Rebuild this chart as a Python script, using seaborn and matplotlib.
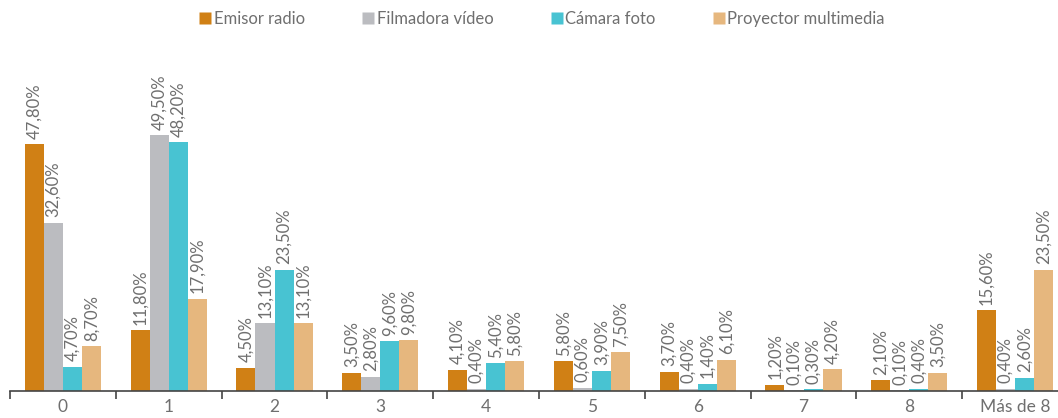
import matplotlib
matplotlib.use("Agg")
import matplotlib.pyplot as plt
import seaborn as sns
import pandas as pd
from matplotlib.lines import Line2D

categorias = ["0", "1", "2", "3", "4", "5", "6", "7", "8", "Más de 8"]
series = ["Emisor radio", "Filmadora vídeo", "Cámara foto", "Proyector multimedia"]
emisor_radio = [47.8, 11.8, 4.5, 3.5, 4.1, 5.8, 3.7, 1.2, 2.1, 15.6]
filmadora_video = [32.6, 49.5, 13.1, 2.8, 0.4, 0.6, 0.4, 0.1, 0.1, 0.4]
camara_foto = [4.7, 48.2, 23.5, 9.6, 5.4, 3.9, 1.4, 0.3, 0.4, 2.6]
proyector = [8.7, 17.9, 13.1, 9.8, 5.8, 7.5, 6.1, 4.2, 3.5, 23.5]
colores = ["#D08015", "#BBBCC0", "#48C3D2", "#E6B77E"]

valores = [emisor_radio, filmadora_video, camara_foto, proyector]
df = pd.DataFrame({
    "cat": categorias * 4,
    "serie": [s for s in series for _ in categorias],
    "valor": [v for vals in valores for v in vals],
})

sns.set_style("white")
plt.rcParams["font.family"] = ["Lato", "DejaVu Sans"]
texto = "#6f6f6f"

fig = plt.figure(figsize=(10.58, 4.18), dpi=100)
ax = fig.add_axes([10 / 1058, (418 - 391) / 418, 1058 / 1058, (391 - 40) / 418])
sns.barplot(data=df, x="cat", y="valor", hue="serie", hue_order=series,
            palette=colores, saturation=1, width=0.72, gap=0,
            edgecolor="none", linewidth=0, legend=False, ax=ax)

for cont in ax.containers:
    etiquetas = [f"{b.get_height():.2f}%".replace(".", ",") for b in cont]
    ax.bar_label(cont, labels=etiquetas, rotation=90, padding=4,
                 fontsize=12, color=texto)

ax.set_xlim(-0.5, 9.5)
ax.set_ylim(0, 68)
ax.set_xlabel("")
ax.set_ylabel("")
ax.set_yticks([])
for s in ["top", "right", "left"]:
    ax.spines[s].set_visible(False)
ax.spines["bottom"].set_color("#444444")
ax.spines["bottom"].set_linewidth(1.2)

ax.set_xticks(range(len(categorias)))
ax.set_xticklabels(categorias, fontsize=12.5, color=texto)
ax.tick_params(axis="x", which="major", length=0, pad=6)
ax.set_xticks([i - 0.5 for i in range(len(categorias) + 1)], minor=True)
ax.tick_params(axis="x", which="minor", length=6, width=1.2, color="#444444",
               direction="out", bottom=True)

handles = [Line2D([], [], marker="s", linestyle="none", markersize=8,
                  markerfacecolor=c, markeredgecolor="none") for c in colores]
fig.legend(handles, series, loc="center", bbox_to_anchor=(0.512, 0.955), ncol=4,
           frameon=False, fontsize=12, labelcolor=texto, handletextpad=0.1,
           columnspacing=3.4, handlelength=0.8)

fig.savefig("out.png", dpi=100)
